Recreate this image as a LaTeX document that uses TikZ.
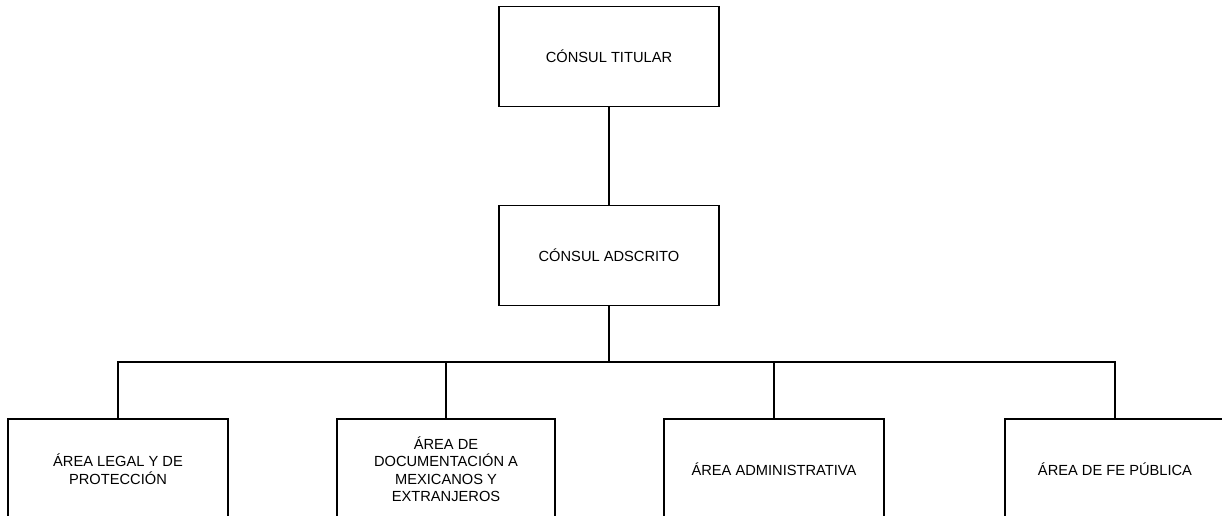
\documentclass[tikz,border=0pt]{standalone}
\usepackage{fontspec}
\setmainfont{Liberation Sans}
\usetikzlibrary{positioning}

\begin{document}
\begin{tikzpicture}[line join=miter,x=0.75pt,y=-0.75pt,
  caja/.style={draw,line width=1.1pt,minimum width=165pt,minimum height=75pt,inner sep=0pt,align=center,font=\fontsize{11}{13.1}\selectfont}]

\useasboundingbox (0,0) rectangle (1222,516);
\clip (0,0) rectangle (1222,516);
\node [caja] (titular) at (609,56.5) {CÓNSUL TITULAR};
\node [caja] (adscrito) at (609,255.5) {CÓNSUL ADSCRITO};
\node [caja] (legal) at (118,469) {ÁREA LEGAL Y DE\\PROTECCIÓN};
\node [caja,minimum width=163.5pt] (docum) at (446,469) {ÁREA DE\\DOCUMENTACIÓN A\\MEXICANOS Y\\EXTRANJEROS};
\node [caja] (admin) at (774,469) {ÁREA ADMINISTRATIVA};
\node [caja] (fe) at (1115,469) {ÁREA DE FE PÚBLICA};
\coordinate (bus) at (609,362);
\draw [line width=1.1pt] (titular) -- (adscrito);
\draw [line width=1.1pt] (adscrito) -- (bus);
\draw [line width=1.1pt] (legal.north) |- (bus) -| (fe.north);
\draw [line width=1.1pt] (docum.north) -- (docum.north |- bus);
\draw [line width=1.1pt] (admin.north) -- (admin.north |- bus);
\end{tikzpicture}
\end{document}
